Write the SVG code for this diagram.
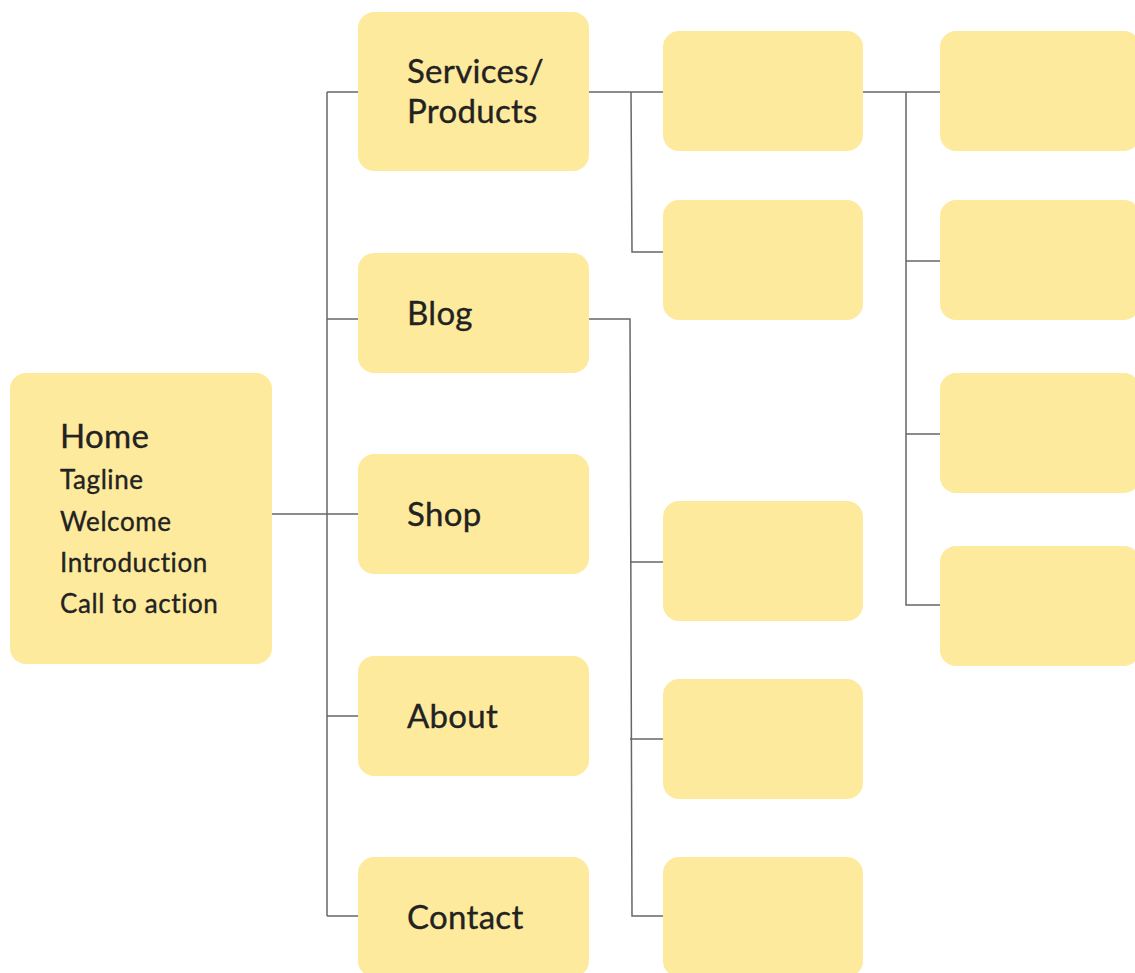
<svg xmlns="http://www.w3.org/2000/svg" width="1135" height="973" viewBox="0 0 1135 973">
  <style>
    .box { fill: #FEEA9C; }
    .lbl { font-family: Lato, "Liberation Sans", sans-serif; fill: #222222; stroke: #222222; stroke-width: 0.35; }
    .big { font-size: 33px; letter-spacing: 0.3px; }
    .home { font-size: 33px; letter-spacing: 0.3px; }
    .item { font-size: 26px; letter-spacing: 0.6px; }
    .wire { fill: none; stroke: #666666; stroke-width: 1.5; }
  </style>
  <rect width="1135" height="973" fill="#FFFFFF"/>

  <!-- connectors -->
  <g id="connectors">
    <!-- home to first-level trunk -->
    <path class="wire" d="M272 514 H358"/>
    <path class="wire" d="M327 92 V916"/>
    <path class="wire" d="M327 92 H358"/>
    <path class="wire" d="M327 319 H358"/>
    <path class="wire" d="M327 716 H358"/>
    <path class="wire" d="M327 916 H358"/>
    <!-- services branch -->
    <path class="wire" d="M589 92 H663"/>
    <path class="wire" d="M631 92 L632 252 H663"/>
    <!-- blog branch -->
    <path class="wire" d="M589 319 H630 L632 916 H663"/>
    <path class="wire" d="M630 562 H663"/>
    <path class="wire" d="M630 739 H663"/>
    <!-- third level branch -->
    <path class="wire" d="M863 92 H940"/>
    <path class="wire" d="M906 92 V605 H940"/>
    <path class="wire" d="M906 261 H940"/>
    <path class="wire" d="M906 434 H940"/>
  </g>

  <!-- home -->
  <g id="home">
    <rect class="box" x="10" y="373" width="262" height="291" rx="16"/>
    <text class="lbl home" x="60" y="448">Home</text>
    <text class="lbl item" x="60" y="489">Tagline</text>
    <text class="lbl item" x="60" y="531">Welcome</text>
    <text class="lbl item" x="60" y="572">Introduction</text>
    <text class="lbl item" x="60" y="613">Call to action</text>
  </g>

  <!-- first level -->
  <g id="services">
    <rect class="box" x="358" y="12" width="231" height="159" rx="16"/>
    <text class="lbl big" x="407" y="83">Services/</text>
    <text class="lbl big" x="407" y="123">Products</text>
  </g>
  <g id="blog">
    <rect class="box" x="358" y="253" width="231" height="120" rx="16"/>
    <text class="lbl big" x="407" y="325">Blog</text>
  </g>
  <g id="shop">
    <rect class="box" x="358" y="454" width="231" height="120" rx="16"/>
    <text class="lbl big" x="407" y="526">Shop</text>
  </g>
  <g id="about">
    <rect class="box" x="358" y="656" width="231" height="120" rx="16"/>
    <text class="lbl big" x="407" y="728">About</text>
  </g>
  <g id="contact">
    <rect class="box" x="358" y="857" width="231" height="120" rx="16"/>
    <text class="lbl big" x="407" y="929">Contact</text>
  </g>

  <!-- second level -->
  <g id="page-2a"><rect class="box" x="663" y="31" width="200" height="120" rx="16"/></g>
  <g id="page-2b"><rect class="box" x="663" y="200" width="200" height="120" rx="16"/></g>
  <g id="page-2c"><rect class="box" x="663" y="501" width="200" height="120" rx="16"/></g>
  <g id="page-2d"><rect class="box" x="663" y="679" width="200" height="120" rx="16"/></g>
  <g id="page-2e"><rect class="box" x="663" y="857" width="200" height="120" rx="16"/></g>

  <!-- third level -->
  <g id="page-3a"><rect class="box" x="940" y="31" width="200" height="120" rx="16"/></g>
  <g id="page-3b"><rect class="box" x="940" y="200" width="200" height="120" rx="16"/></g>
  <g id="page-3c"><rect class="box" x="940" y="373" width="200" height="120" rx="16"/></g>
  <g id="page-3d"><rect class="box" x="940" y="546" width="200" height="120" rx="16"/></g>
</svg>
